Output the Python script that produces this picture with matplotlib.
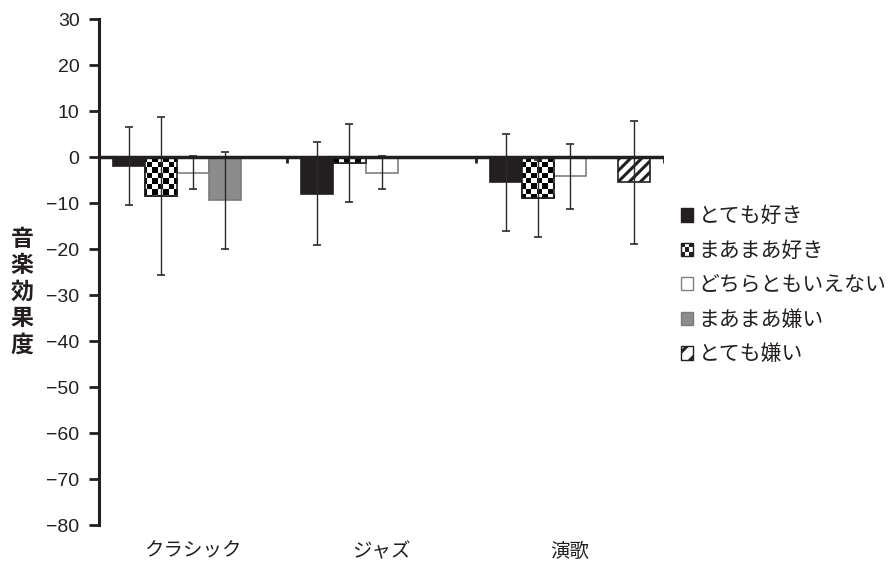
import numpy as np
import matplotlib
matplotlib.use("Agg")
import matplotlib.pyplot as plt
from matplotlib.patches import Rectangle
from matplotlib.legend_handler import HandlerBase
from matplotlib.transforms import blended_transform_factory

plt.rcParams['font.family'] = ['Liberation Sans', 'Noto Sans CJK JP', 'DejaVu Sans']
plt.rcParams['hatch.linewidth'] = 2.2
plt.rcParams['axes.unicode_minus'] = True

# Data
categories = ['クラシック', 'ジャズ', '演歌']
series = ['とても好き', 'まあまあ好き', 'どちらともいえない', 'まあまあ嫌い', 'とても嫌い']
means = {
    'とても好き':        [-2.0, -8.0, -5.5],
    'まあまあ好き':      [-8.5, -1.3, -9.0],
    'どちらともいえない': [-3.4, -3.4, -4.2],
    'まあまあ嫌い':      [-9.4, np.nan, np.nan],
    'とても嫌い':        [np.nan, np.nan, -5.5],
}
errors = {
    'とても好き':        [8.5, 11.2, 10.6],
    'まあまあ好き':      [17.1, 8.5, 8.3],
    'どちらともいえない': [3.6, 3.6, 7.1],
    'まあまあ嫌い':      [10.6, np.nan, np.nan],
    'とても嫌い':        [np.nan, np.nan, 13.4],
}
yticks = list(range(-80, 31, 10))

fig = plt.figure(figsize=(8.89, 5.68), dpi=100)
ax = fig.add_axes([0.1114, 0.0757, 0.6355, 0.8908])

INK = '#231f20'
styles = {
    'とても好き':        dict(facecolor=INK, edgecolor=INK, hatch=None),
    'まあまあ好き':      dict(facecolor='white', edgecolor=INK, hatch=None),
    'どちらともいえない': dict(facecolor='white', edgecolor='#808080', hatch=None),
    'まあまあ嫌い':      dict(facecolor='#8c8c8c', edgecolor='#7a7a7a', hatch=None),
    'とても嫌い':        dict(facecolor='white', edgecolor=INK, hatch='///'),
}

x = np.arange(len(categories))
width = 0.17
n = len(series)
checker_bars = []
for j, name in enumerate(series):
    pos = x + (j - (n - 1) / 2) * width
    vals = np.array(means[name], dtype=float)
    errs = np.array(errors[name], dtype=float)
    ok = ~np.isnan(vals)
    st = styles[name]
    bars = ax.bar(pos[ok], vals[ok], width, color=st['facecolor'],
                  edgecolor=st['edgecolor'], linewidth=1.2, hatch=st['hatch'],
                  zorder=2)
    ax.errorbar(pos[ok], vals[ok], yerr=errs[ok], fmt='none', ecolor='#2b2b2b',
                elinewidth=1.0, capsize=3.2, capthick=1.2, zorder=4)
    if name == 'まあまあ好き':
        checker_bars = list(bars)

ax.set_xlim(-0.5, 2.5)
ax.set_ylim(-80, 30)

# checkerboard texture for the まあまあ好き bars
rows, cols = 95, 106
board = (np.add.outer(np.arange(rows), np.arange(cols)) % 2).astype(float)
for b in checker_bars:
    im = ax.imshow(board, cmap='gray', vmin=0, vmax=1, extent=(-0.5, 2.5, -80, 30),
                   aspect='auto', interpolation='nearest', zorder=2.5)
    im.set_clip_path(b)
    ax.add_patch(Rectangle(b.get_xy(), b.get_width(), b.get_height(), fill=False,
                           edgecolor=INK, linewidth=1.2, zorder=3))
ax.set_xlim(-0.5, 2.5)
ax.set_ylim(-80, 30)

# axes styling
for s in ['top', 'right', 'bottom']:
    ax.spines[s].set_visible(False)
ax.spines['left'].set_linewidth(2.2)
ax.spines['left'].set_color(INK)
ax.axhline(0, color=INK, lw=2.5, zorder=5)
ax.vlines([0.5, 1.5, 2.5], -1.4, 0, color=INK, lw=2.0, zorder=5)
ax.set_yticks(yticks)
ax.set_yticklabels([f'{t}'.replace('-', '\u2212') for t in yticks])
ax.tick_params(axis='y', direction='out', length=7, width=2, color=INK,
               labelsize=14, pad=7, labelcolor=INK)
ax.set_xticks([])

trans = blended_transform_factory(ax.transData, ax.transAxes)
for xi, c in zip(x, categories):
    ax.text(xi, -0.054, c, transform=trans, ha='center', va='center',
            fontsize=14, color=INK)

ax.text(-0.136, 0.46, '音\n楽\n効\n果\n度', transform=ax.transAxes, ha='center',
        va='center', fontsize=16.5, fontweight='bold', linespacing=1.2,
        color=INK)


class HandlerChecker(HandlerBase):
    def create_artists(self, legend, orig_handle, xdescent, ydescent, width,
                       height, fontsize, trans):
        arts = [Rectangle((-xdescent, -ydescent), width, height, facecolor='white',
                          edgecolor=INK, lw=1.0, transform=trans)]
        k = 3
        w, h = width / k, height / k
        for r in range(k):
            for c in range(k):
                if (r + c) % 2 == 0:
                    arts.append(Rectangle((-xdescent + c * w, -ydescent + r * h), w, h,
                                          facecolor=INK, edgecolor='none',
                                          transform=trans))
        return arts


proxies = [Rectangle((0, 0), 1, 1, facecolor=styles[s]['facecolor'],
                     edgecolor=styles[s]['edgecolor'], hatch=styles[s]['hatch'], lw=1.0)
           for s in series]
proxies[4].set_hatch('//')
leg = fig.legend(proxies, series, loc='upper left', bbox_to_anchor=(0.766, 0.636),
                 frameon=False, fontsize=15, handlelength=0.6, handleheight=0.6,
                 handletextpad=0.25, labelspacing=0.72, borderaxespad=0, borderpad=0,
                 handler_map={proxies[1]: HandlerChecker()})
for t in leg.get_texts():
    t.set_color(INK)

fig.savefig('out.png', dpi=100)
